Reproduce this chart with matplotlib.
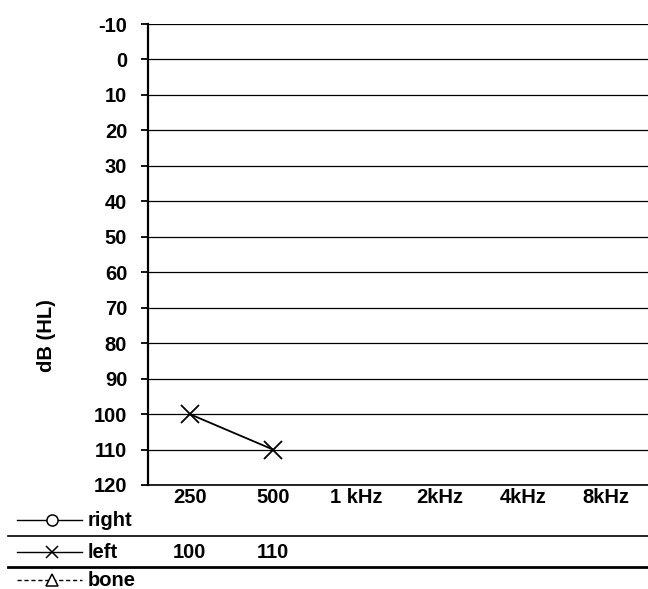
import matplotlib
matplotlib.use("Agg")
import matplotlib.pyplot as plt
from matplotlib.lines import Line2D
from matplotlib.transforms import blended_transform_factory

plt.rcParams['font.family'] = ['Liberation Sans', 'DejaVu Sans']

# audiogram data
freqs = ["250", "500", "1 kHz", "2kHz", "4kHz", "8kHz"]
right_vals = [None, None, None, None, None, None]
left_vals = [100, 110, None, None, None, None]
bone_vals = [None, None, None, None, None, None]
yticks = list(range(-10, 121, 10))

FS = 14.5
W, H = 648, 589
fig = plt.figure(figsize=(W / 100, H / 100), dpi=100)
ax = fig.add_axes([148 / W, 1 - 485 / H, 1 - 148 / W, (485 - 24) / H])

x = list(range(len(freqs)))
lx = [i for i, v in zip(x, left_vals) if v is not None]
ly = [v for v in left_vals if v is not None]
ax.plot(lx, ly, color='black', lw=1.3, marker='x', ms=13, mew=1.3)

ax.set_xlim(-0.5, len(freqs) - 0.5)
ax.set_ylim(120, -10)
ax.set_yticks(yticks)
ax.set_yticklabels([str(t) for t in yticks], fontsize=FS, fontweight='bold')
ax.set_xticks(x)
ax.set_xticklabels(freqs, fontsize=FS, fontweight='bold')
ax.tick_params(axis='x', length=0, pad=2)
ax.tick_params(axis='y', length=5, width=1.3, pad=10)
for t in yticks:
    ax.axhline(t, color='black', lw=0.9, zorder=0)
for s in ['top', 'right']:
    ax.spines[s].set_visible(False)
ax.spines['left'].set_linewidth(1.6)
ax.spines['bottom'].set_linewidth(1.2)

fig.text(47 / W, 1 - 336 / H, "dB (HL)", rotation=90, ha='center', va='center',
         fontsize=FS, fontweight='bold')

# data table under the chart
rows = [("right", right_vals, 'o', '-'), ("left", left_vals, 'x', '-'), ("bone", bone_vals, '^', '--')]
row_y = [520, 552, 580]
tr = blended_transform_factory(ax.transData, fig.transFigure)
for (name, vals, mk, ls), yy in zip(rows, row_y):
    fy = 1 - yy / H
    if ls == '--':
        fig.add_artist(Line2D([17 / W, 82 / W], [fy, fy], color='black', lw=1, ls='--', dashes=(3, 2)))
    else:
        fig.add_artist(Line2D([17 / W, 82 / W], [fy, fy], color='black', lw=1))
    fig.add_artist(Line2D([52 / W], [fy], color='black', marker=mk, ms=8,
                          mfc='white', mew=1.1, ls='none'))
    fig.text(88 / W, fy, name, ha='left', va='center', fontsize=FS, fontweight='bold')
    for i, v in enumerate(vals):
        if v is not None:
            ax.text(i, fy, str(v), transform=tr, ha='center', va='center',
                    fontsize=FS, fontweight='bold')

fig.add_artist(Line2D([8 / W, 1], [1 - 536 / H] * 2, color='black', lw=1.2))
fig.add_artist(Line2D([8 / W, 1], [1 - 567 / H] * 2, color='black', lw=2))

fig.savefig("out.png", dpi=100)
